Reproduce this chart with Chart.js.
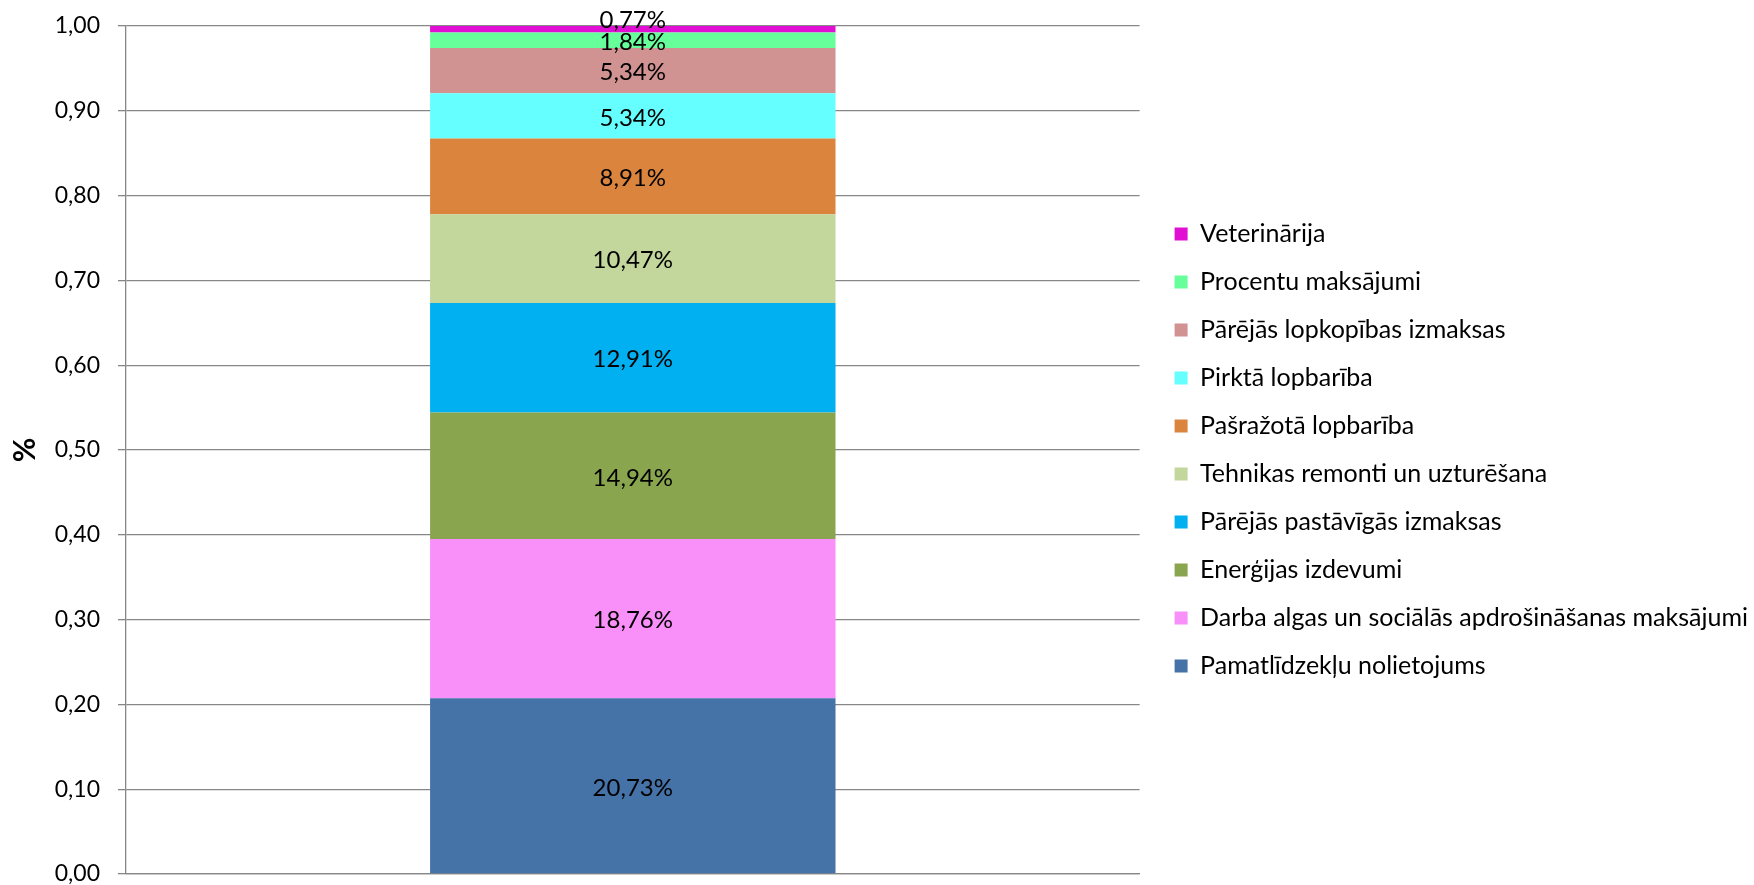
<!DOCTYPE html>
<html>
<head>
<meta charset="utf-8">
<script src="https://cdn.jsdelivr.net/npm/chart.js@4"></script>
<style>
html,body{margin:0;padding:0;background:#fff;}
#wrap{width:1754px;height:885px;position:relative;}
</style>
</head>
<body>
<div id="wrap"><canvas id="c" width="1754" height="885"></canvas></div>
<script>
// Data (bottom to top of the stacked bar)
const categories = [''];
const seriesNames = [
  'Pamatlīdzekļu nolietojums',
  'Darba algas un sociālās apdrošināšanas maksājumi',
  'Enerģijas izdevumi',
  'Pārējās pastāvīgās izmaksas',
  'Tehnikas remonti un uzturēšana',
  'Pašražotā lopbarība',
  'Pirktā lopbarība',
  'Pārējās lopkopības izmaksas',
  'Procentu maksājumi',
  'Veterinārija'
];
const seriesValues = [0.2073, 0.1876, 0.1494, 0.1291, 0.1047, 0.0891, 0.0534, 0.0534, 0.0184, 0.0077];
const seriesColors = ['#4572A7', '#F98FF9', '#89A54E', '#00B0F0', '#C3D69B', '#DB843D', '#66FFFF', '#D19292', '#66FF99', '#E10FD3'];
const yTickMin = 0, yTickMax = 1, yTickStep = 0.1;
const yAxisTitle = '%';

const FONT = 'Lato';
const fmtTick = v => v.toFixed(2).replace('.', ',');
const fmtPct = v => (v * 100).toFixed(2).replace('.', ',') + '%';

const datasets = seriesNames.map((name, i) => ({
  label: name,
  data: [seriesValues[i]],
  backgroundColor: seriesColors[i],
  borderWidth: 0,
  categoryPercentage: 1,
  barPercentage: 0.4
}));

const segLabels = {
  id: 'segLabels',
  afterDatasetsDraw(chart) {
    const ctx = chart.ctx;
    ctx.save();
    ctx.font = '24px ' + FONT;
    ctx.fillStyle = '#000';
    ctx.textAlign = 'center';
    ctx.textBaseline = 'middle';
    const h = 22;
    let prev = Infinity;
    chart.data.datasets.forEach((ds, i) => {
      const meta = chart.getDatasetMeta(i);
      meta.data.forEach((el, j) => {
        const p = el.getProps(['x', 'y', 'base'], true);
        let cy = (p.y + p.base) / 2 + 2;
        if (cy > prev - h) cy = prev - h;
        prev = cy;
        ctx.fillText(fmtPct(ds.data[j]), p.x, cy);
      });
    });
    ctx.restore();
  }
};

const legendShift = {
  id: 'legendShift',
  afterLayout(chart) {
    if (chart.legend) { chart.legend.left += 12; chart.legend.right += 12; }
  }
};

new Chart(document.getElementById('c'), {
  type: 'bar',
  data: { labels: categories, datasets },
  plugins: [segLabels, legendShift],
  options: {
    responsive: false,
    animation: false,
    devicePixelRatio: 1,
    layout: { padding: { top: 26, bottom: 11, left: 0, right: 8 } },
    plugins: {
      tooltip: { enabled: false },
      legend: {
        position: 'right',
        reverse: true,
        maxWidth: 900,
        labels: {
          boxWidth: 13,
          boxHeight: 13,
          padding: 23,
          color: '#000',
          font: { family: FONT, size: 25 }
        }
      }
    },
    scales: {
      x: {
        stacked: true,
        afterFit(scale) { scale.height = 0; scale.paddingLeft = 0; scale.paddingRight = 0; },
        grid: { display: false, drawTicks: false },
        border: { display: true, color: '#878787', width: 1.3 },
        ticks: { display: false }
      },
      y: {
        stacked: true,
        min: yTickMin,
        max: yTickMax,
        afterFit(scale) { scale.width = 126; scale.paddingTop = 0; scale.paddingBottom = 0; },
        ticks: {
          stepSize: yTickStep,
          padding: 18,
          color: '#000',
          font: { family: FONT, size: 23 },
          callback: v => fmtTick(v)
        },
        grid: { color: '#878787', lineWidth: 1.3, tickLength: 8, drawTicks: true },
        border: { display: true, color: '#878787', width: 1.3 },
        title: {
          display: true,
          text: yAxisTitle,
          color: '#000',
          font: { family: FONT, size: 30, weight: 'bold' },
          padding: { top: 7, bottom: 0 }
        }
      }
    }
  }
});
</script>
</body>
</html>
